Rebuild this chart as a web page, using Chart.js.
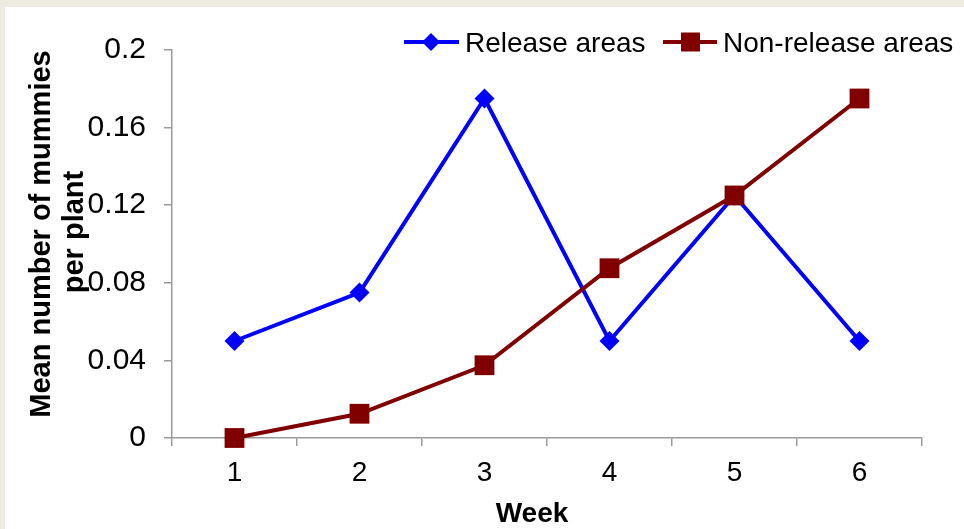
<!DOCTYPE html>
<html>
<head>
<meta charset="utf-8">
<script src="https://cdn.jsdelivr.net/npm/chart.js@4"></script>
<style>
  html, body { margin: 0; padding: 0; background: #eeece1; }
  #wrap { width: 964px; height: 529px; position: relative; }
  canvas { display: block; }
</style>
</head>
<body>
<div id="wrap"><canvas id="c" width="964" height="529"></canvas></div>
<script>
// Weekly mummy counts per plant
const weeks = ['1', '2', '3', '4', '5', '6'];
const releaseAreas = [0.05, 0.075, 0.175, 0.05, 0.125, 0.05];
const nonReleaseAreas = [0, 0.0125, 0.0375, 0.0875, 0.125, 0.175];
const yTickLabels = ['0', '0.04', '0.08', '0.12', '0.16', '0.2'];

const FONT = '"Liberation Sans", Arial, sans-serif';
const BLUE = '#0000ff';
const MAROON = '#800000';
const AXIS = '#9a9a9a';

// Panel background, legend and axis titles
const decor = {
  id: 'decor',
  beforeDraw(chart) {
    const ctx = chart.ctx;
    ctx.save();
    ctx.fillStyle = '#eeece1';
    ctx.fillRect(0, 0, chart.width, chart.height);
    ctx.fillStyle = '#ffffff';
    ctx.fillRect(5, 7, chart.width - 5, chart.height - 7);
    ctx.restore();
  },
  afterDraw(chart) {
    const ctx = chart.ctx;
    ctx.save();
    // legend
    const ly = 42;
    ctx.lineWidth = 4;
    ctx.strokeStyle = BLUE;
    ctx.beginPath(); ctx.moveTo(404, ly); ctx.lineTo(459, ly); ctx.stroke();
    ctx.fillStyle = BLUE;
    ctx.beginPath();
    ctx.moveTo(431, ly - 9); ctx.lineTo(440, ly); ctx.lineTo(431, ly + 9); ctx.lineTo(422, ly);
    ctx.closePath(); ctx.fill();
    ctx.strokeStyle = MAROON;
    ctx.beginPath(); ctx.moveTo(663, ly); ctx.lineTo(717, ly); ctx.stroke();
    ctx.fillStyle = MAROON;
    ctx.fillRect(681, ly - 9.5, 19, 19);
    ctx.fillStyle = '#000';
    ctx.font = '28px ' + FONT;
    ctx.textBaseline = 'alphabetic';
    ctx.textAlign = 'left';
    ctx.fillText('Release areas', 465, 52);
    ctx.fillText('Non-release areas', 723, 52);

    // axis titles
    ctx.font = 'bold 28px ' + FONT;
    ctx.textAlign = 'center';
    ctx.fillText('Week', 532, 522);
    ctx.font = 'bold 29px ' + FONT;
    ctx.save();
    ctx.translate(50, 234);
    ctx.rotate(-Math.PI / 2);
    ctx.fillText('Mean number of mummies', 0, 0);
    ctx.restore();
    ctx.save();
    ctx.translate(83, 232);
    ctx.rotate(-Math.PI / 2);
    ctx.fillText('per plant', 0, 0);
    ctx.restore();
    ctx.restore();
  }
};

new Chart(document.getElementById('c'), {
  type: 'line',
  data: {
    labels: weeks,
    datasets: [
      {
        label: 'Non-release areas',
        data: nonReleaseAreas,
        borderColor: MAROON,
        backgroundColor: MAROON,
        borderWidth: 4,
        pointStyle: 'rect',
        pointRadius: 14,
        pointHoverRadius: 14,
        pointBorderWidth: 0,
        tension: 0,
        clip: false,
        order: 0
      },
      {
        label: 'Release areas',
        data: releaseAreas,
        borderColor: BLUE,
        backgroundColor: BLUE,
        borderWidth: 4,
        pointStyle: 'rectRot',
        pointRadius: 10,
        pointHoverRadius: 10,
        pointBorderWidth: 0,
        tension: 0,
        clip: false,
        order: 1
      }
    ]
  },
  options: {
    responsive: false,
    animation: false,
    devicePixelRatio: 1,
    layout: { padding: { top: 50, right: 42, bottom: 0, left: 0 } },
    plugins: {
      legend: { display: false },
      tooltip: { enabled: false },
      title: { display: false }
    },
    scales: {
      x: {
        offset: true,
        grid: {
          offset: true,
          drawOnChartArea: false,
          drawTicks: true,
          tickLength: 8,
          color: AXIS,
          tickColor: AXIS,
          lineWidth: 1.5
        },
        border: { display: true, color: AXIS, width: 1.5 },
        ticks: {
          color: '#000',
          font: { family: FONT, size: 28 },
          padding: 10,
          maxRotation: 0
        },
        afterFit(scale) { scale.height = 91; }
      },
      y: {
        min: 0,
        max: 0.2,
        grid: {
          drawOnChartArea: false,
          drawTicks: true,
          tickLength: 8,
          color: AXIS,
          tickColor: AXIS,
          lineWidth: 1.5
        },
        border: { display: true, color: AXIS, width: 1.5 },
        ticks: {
          stepSize: 0.04,
          color: '#000',
          font: { family: FONT, size: 30 },
          padding: 18,
          callback: (v, i) => yTickLabels[i]
        },
        afterFit(scale) { scale.width = 172; }
      }
    }
  },
  plugins: [decor]
});
</script>
</body>
</html>
